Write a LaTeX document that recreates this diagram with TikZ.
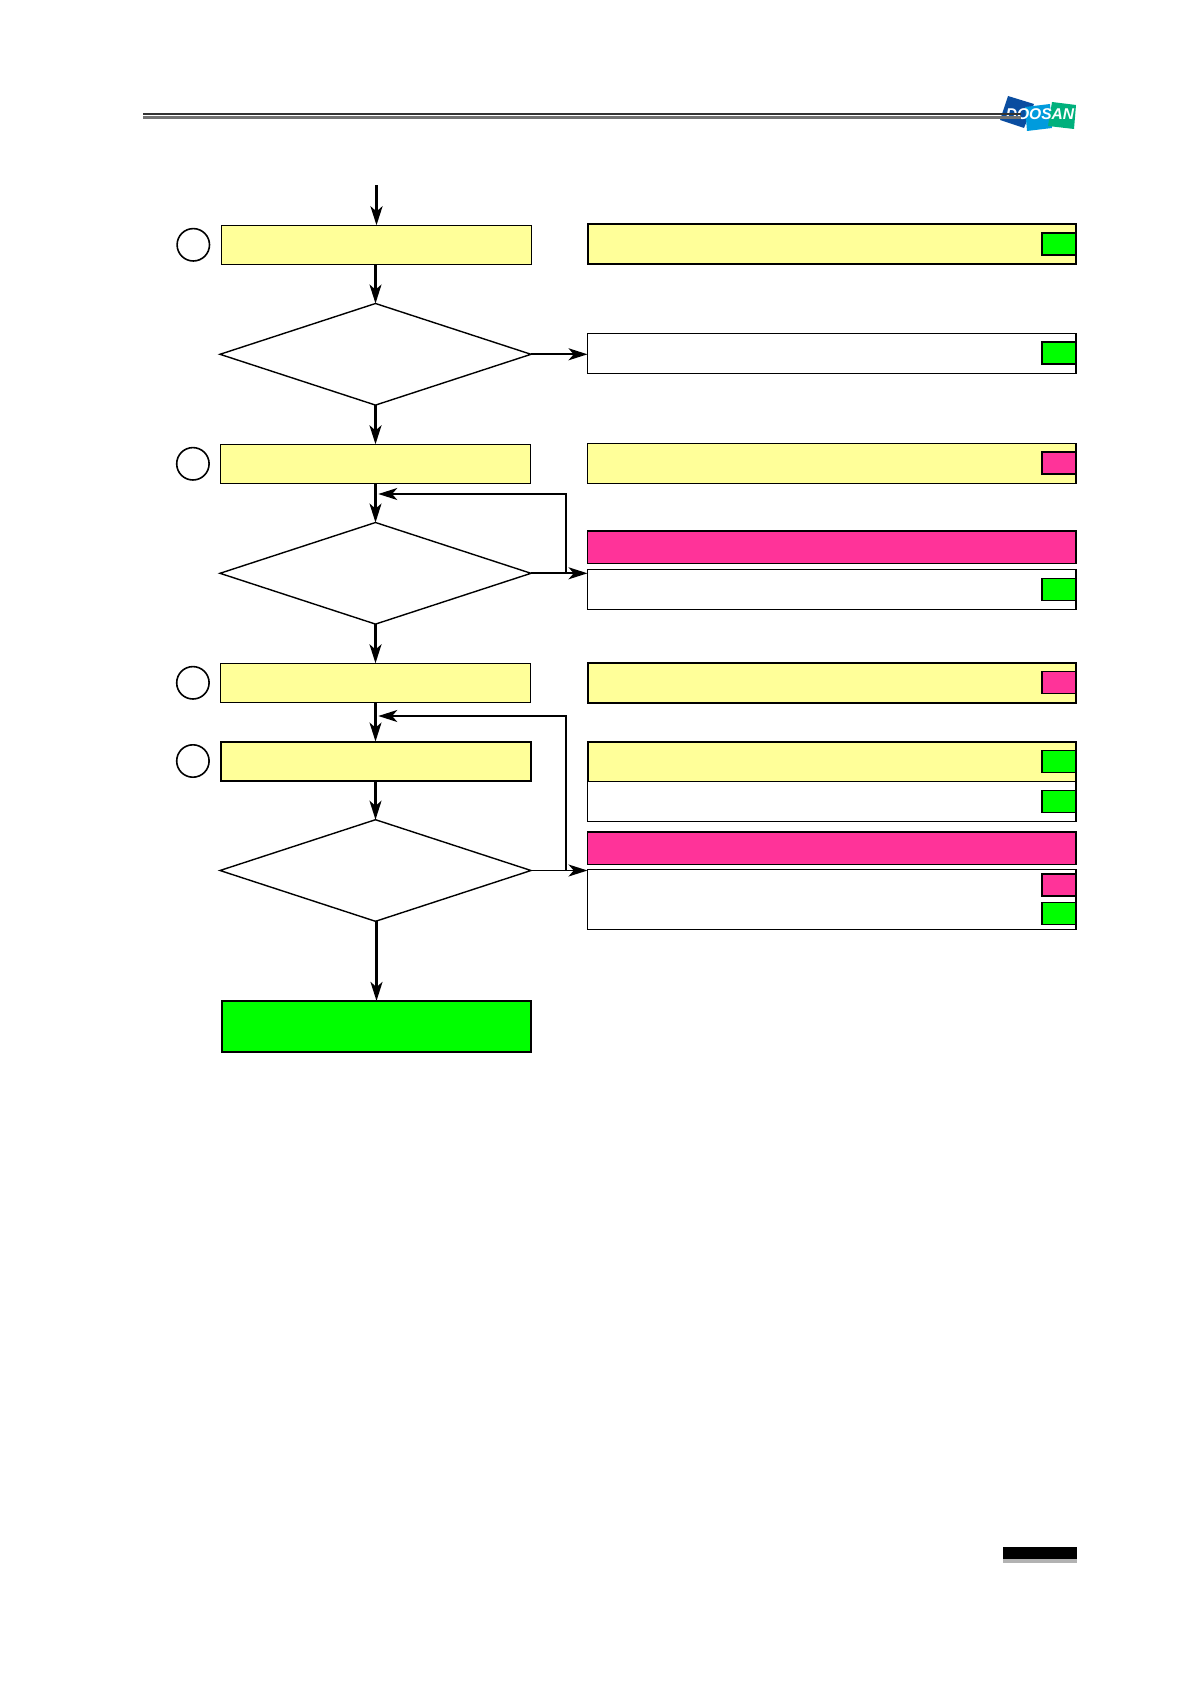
\documentclass[tikz,border=0pt]{standalone}
\usepackage{fontspec}
\setmainfont{Liberation Sans}
\usepackage{tikz}
\usetikzlibrary{positioning,shapes.geometric,arrows.meta}
\definecolor{paleyellow}{HTML}{FFFF99}
\definecolor{hotpink}{HTML}{FF3399}
\definecolor{puregreen}{HTML}{00FF00}
\definecolor{logoblue}{HTML}{0A4DA0}
\definecolor{logosky}{HTML}{009BDD}
\definecolor{logogreen}{HTML}{00B07C}
\tikzset{
	x=0.5pt,y=-0.5pt,
	node distance=19.6pt,
	every node/.style={inner sep=0pt,outer sep=0pt},
	stepbox/.style={rectangle,draw=black,fill=paleyellow,line width=0.7pt,minimum width=155pt,minimum height=19.5pt},
	stepthick/.style={stepbox,line width=1pt},
	finishbox/.style={rectangle,draw=black,fill=puregreen,line width=1pt,minimum width=154.5pt,minimum height=25.7pt},
	decide/.style={diamond,aspect=3.06,draw=black,fill=white,line width=0.7pt,minimum width=155.5pt,minimum height=50.8pt},
	badge/.style={circle,draw=black,fill=white,line width=0.8pt,minimum size=16.2pt},
	result/.style={rectangle,draw=black,fill=white,line width=0.7pt,minimum width=244.25pt,minimum height=20pt},
	resultyellow/.style={result,fill=paleyellow},
	resultthick/.style={result,fill=paleyellow,line width=1pt},
	alarm/.style={result,fill=hotpink,line width=0.85pt,minimum height=16.3pt},
	taggreen/.style={rectangle,draw=black,fill=puregreen,line width=0.85pt,minimum width=17pt,minimum height=11pt},
	tagpink/.style={taggreen,fill=hotpink},
	flowtip/.style={>={Stealth[length=9.5pt,width=6pt,inset=2.6pt]}},
	flowin/.style={<-,flowtip,line width=1.15pt},
	flowout/.style={->,flowtip,line width=0.85pt},
	flowloop/.style={->,flowtip,line width=0.85pt,shorten >=1.4pt},
	headrule/.style={line width=1.2pt}
}
\begin{document}
\begin{tikzpicture}
\useasboundingbox (0,0) rectangle (1192,1685);
% logo
\fill[logoblue] (1008,96) -- (1034,104) -- (1024,128) -- (1000,120) -- cycle;
\fill[logosky] (1025,107) -- (1050,104) -- (1052,128) -- (1027,131) -- cycle;
\fill[logogreen] (1052,102) -- (1076,105) -- (1074,129) -- (1048,126) -- cycle;
\node[text=white,font=\fontsize{7.8}{8}\selectfont\bfseries\itshape] (LogoText) at (1040,114) {DOOSAN};
% header rules
\draw[headrule,draw=black!80] (143,114) -- (1021,114);
\draw[headrule,draw=black!55] (143,117.6) -- (1021,117.6);
% main column
\node[stepbox](Box1) at (376.5,244.8) {};
\coordinate[above=20pt of Box1.north] (Start);
\draw[flowin,line width=1.5pt] (Box1.north) -- (Start);
\node[decide](Decide1) [below=of Box1,xshift=-0.5pt] {}
   edge [flowin] (Decide1 |- Box1.south);
\node[stepbox](Box2) [below=of Decide1] {}
   edge [flowin] (Decide1);
\node[decide](Decide2) [below=of Box2] {}
   edge [flowin] (Box2);
\node[stepbox](Box3) [below=of Decide2] {}
   edge [flowin] (Decide2);
\node[stepthick](Box4) [below=of Box3] {}
   edge [flowin] (Box3);
\node[decide](Decide3) [below=of Box4] {}
   edge [flowin] (Box4);
\node[finishbox](Finish) [below=39.8pt of Decide3,xshift=0.5pt] {}
   edge [flowin] (Finish |- Decide3.south);
% numbered circles
\node[badge](Badge1) [left=6pt of Box1] {};
\node[badge](Badge2) [left=5.7pt of Box2] {};
\node[badge](Badge3) [left=5.7pt of Box3] {};
\node[badge](Badge4) [left=5.7pt of Box4] {};
% right column
\node[resultthick](Res1) [right=28pt of Box1,yshift=0.4pt] {};
\node[result](Res2) [below=34.65pt of Res1] {};
\node[resultyellow](Res3) [below=35pt of Res2] {};
\node[alarm](Alarm1) [below=23.85pt of Res3] {};
\node[result](Res4) [below=3pt of Alarm1] {};
\node[resultthick](Res5) [below=26.5pt of Res4] {};
\node[resultthick](Res6) [below=19.5pt of Res5] {};
\node[result](Res7) [below=0pt of Res6] {};
\node[alarm](Alarm2) [below=5.2pt of Res7] {};
\node[result,minimum height=30pt](Res8) [below=2.5pt of Alarm2] {};
% tags
\node[taggreen,anchor=east](Tag1) at (Res1.east) {};
\node[taggreen,anchor=east](Tag2) at (Res2.east) {};
\node[tagpink,anchor=east](Tag3) at (Res3.east) {};
\node[taggreen,anchor=east](Tag4) at (Res4.east) {};
\node[tagpink,anchor=east](Tag5) at (Res5.east) {};
\node[taggreen,anchor=east](Tag6) at (Res6.east) {};
\node[taggreen,anchor=east](Tag7) at (Res7.east) {};
\node[tagpink,anchor=east](Tag8) [yshift=7.2pt] at (Res8.east) {};
\node[taggreen,anchor=east](Tag9) [yshift=-6.9pt] at (Res8.east) {};
% branches
\draw[flowout] (Decide1.east) -- (Decide1.east -| Res2.west);
\draw[flowout] (Decide2.east) -- (Decide2.east -| Res4.west);
\draw[flowout] (Decide3.east) -- (Decide3.east -| Res8.west);
% return loops
\coordinate[below=5.35pt of Box2.south] (Merge1);
\coordinate[below=6.85pt of Box3.south] (Merge2);
\coordinate[right=17.5pt of Decide2.east] (Riser1);
\coordinate[right=17.5pt of Decide3.east] (Riser2);
\draw[flowloop] (Riser1) |- (Merge1);
\draw[flowloop] (Riser2) |- (Merge2);
% page number bar
\fill[black!30] (1003,1559) rectangle (1077,1563);
\fill[black] (1003,1546.5) rectangle (1077,1559);
\end{tikzpicture}
\end{document}
